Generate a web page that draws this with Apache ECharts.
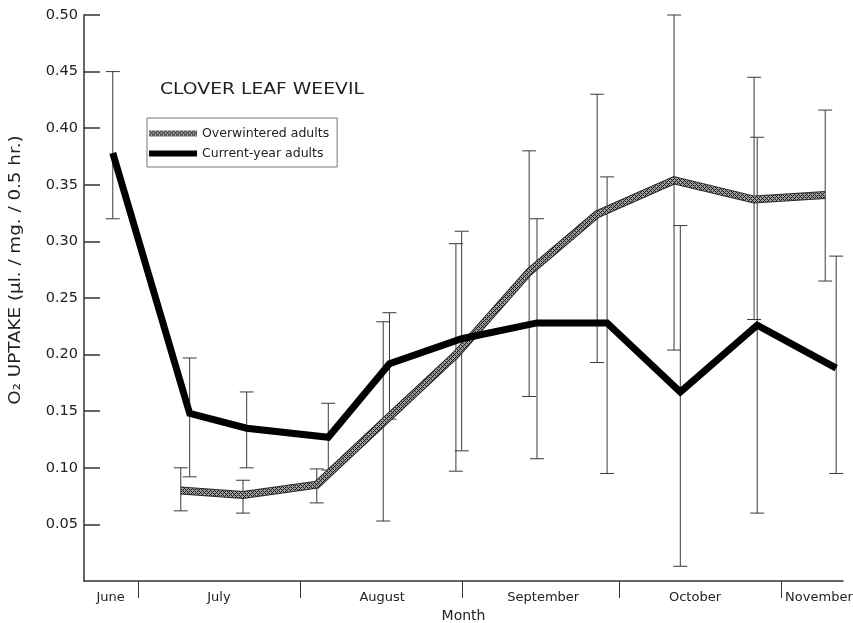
<!DOCTYPE html>
<html>
<head>
<meta charset="utf-8">
<script src="https://cdn.jsdelivr.net/npm/echarts@6/dist/echarts.min.js"></script>
<style>html,body{margin:0;padding:0;background:#fff}#c{width:853px;height:623px}</style>
</head>
<body>
<div id="c"></div>
<script>
// x values: days counted from June 1 (June 1 = 0)
const monthNames = ['June', 'July', 'August', 'September', 'October', 'November'];
const monthLabelDays = [24.8, 45.5, 76.7, 107.5, 136.5, 160.2];
const monthBoundaryDays = [30, 61, 92, 122, 153];
const yTicks = [0.05, 0.10, 0.15, 0.20, 0.25, 0.30, 0.35, 0.40, 0.45, 0.50];

// Current-year adults
const dayCurrent = [25.2, 39.9, 50.8, 66.4, 78.1, 91.9, 106.3, 119.7, 133.7, 148.4, 163.5];
const valCurrent = [0.378, 0.148, 0.135, 0.127, 0.192, 0.214, 0.228, 0.228, 0.167, 0.226, 0.188];
const lowCurrent = [0.320, 0.092, 0.100, 0.098, 0.143, 0.115, 0.108, 0.095, 0.013, 0.060, 0.095];
const highCurrent = [0.450, 0.197, 0.167, 0.157, 0.237, 0.309, 0.320, 0.357, 0.314, 0.392, 0.287];

// Overwintered adults
const dayOver = [38.2, 50.1, 64.2, 76.9, 90.8, 104.8, 117.8, 132.5, 147.8, 161.4];
const valOver = [0.080, 0.076, 0.085, 0.140, 0.200, 0.273, 0.324, 0.354, 0.337, 0.341];
const lowOver = [0.062, 0.060, 0.069, 0.053, 0.097, 0.163, 0.193, 0.204, 0.231, 0.265];
const highOver = [0.100, 0.089, 0.099, 0.229, 0.298, 0.380, 0.430, 0.500, 0.445, 0.416];

const FONT = 'DejaVu Sans';

function hatch() {
  const c = document.createElement('canvas');
  c.width = 4; c.height = 4;
  const g = c.getContext('2d');
  g.fillStyle = '#a0a0a0'; g.fillRect(0, 0, 4, 4);
  g.fillStyle = '#1a1a1a';
  for (let x = 0; x < 4; x++) for (let y = 0; y < 4; y++) {
    if ((x + y) % 4 === 0 || (x - y + 4) % 4 === 0) g.fillRect(x, y, 1, 1);
  }
  return { image: c, repeat: 'repeat' };
}
const hatchPattern = hatch();

function pairs(xs, ys) { return xs.map((x, i) => [x, ys[i]]); }
function bars(xs, lo, hi) { return xs.map((x, i) => [x, lo[i], hi[i]]); }

function errRender(params, api) {
  const x = api.value(0);
  const top = api.coord([x, api.value(2)]);
  const bot = api.coord([x, api.value(1)]);
  const w = 7;
  const st = { stroke: '#3a3a3a', lineWidth: 1 };
  return {
    type: 'group',
    children: [
      { type: 'line', shape: { x1: top[0], y1: top[1], x2: bot[0], y2: bot[1] }, style: st },
      { type: 'line', shape: { x1: top[0] - w, y1: top[1], x2: top[0] + w, y2: top[1] }, style: st },
      { type: 'line', shape: { x1: bot[0] - w, y1: bot[1], x2: bot[0] + w, y2: bot[1] }, style: st }
    ]
  };
}

const chart = echarts.init(document.getElementById('c'));
chart.setOption({
  backgroundColor: '#fff',
  animation: false,
  legend: {
    orient: 'vertical',
    left: 147, top: 118,
    padding: [9, 8, 7, 2],
    itemGap: 7,
    itemWidth: 48, itemHeight: 6,
    itemTextGap: 3,
    borderColor: '#777', borderWidth: 1,
    textStyle: { fontFamily: FONT, fontSize: 12.5, color: '#222' },
    data: [
      { name: 'Overwintered adults', icon: 'rect', itemStyle: { color: hatchPattern } },
      { name: 'Current-year adults', icon: 'rect', itemStyle: { color: '#000' } }
    ]
  },
  grid: { left: 84, top: 15, right: 10, bottom: 42, outerBoundsMode: 'none', containLabel: false },
  xAxis: {
    type: 'value',
    min: 19.7, max: 164.8,
    name: 'Month',
    nameLocation: 'middle',
    nameGap: 27,
    nameTextStyle: { fontFamily: FONT, fontSize: 14, color: '#222' },
    splitLine: { show: false },
    axisLine: { lineStyle: { color: '#333', width: 1.5 } },
    axisTick: { customValues: monthBoundaryDays, length: 17, lineStyle: { color: '#333' } },
    axisLabel: {
      customValues: monthLabelDays,
      margin: 10,
      fontFamily: FONT, fontSize: 13, color: '#222',
      formatter: v => { const i = monthLabelDays.indexOf(v); return i >= 0 ? monthNames[i] : ''; }
    }
  },
  yAxis: {
    type: 'value',
    min: 0, max: 0.5,
    splitLine: { show: false },
    axisLine: { show: true, lineStyle: { color: '#333', width: 1.5 } },
    axisTick: { customValues: yTicks, inside: true, length: 16, lineStyle: { color: '#333', width: 1.5 } },
    axisLabel: {
      customValues: yTicks,
      margin: 6,
      fontFamily: FONT, fontSize: 14.5, color: '#222',
      formatter: v => v.toFixed(2)
    }
  },
  graphic: [
    {
      type: 'text',
      x: 160, y: 90,
      scaleX: 1.25,
      style: {
        text: 'CLOVER LEAF WEEVIL',
        fontFamily: FONT, fontSize: 15, fill: '#222',
        align: 'left', verticalAlign: 'middle'
      }
    },
    {
      type: 'text',
      x: 16, y: 270,
      rotation: Math.PI / 2,
      scaleX: 1.18,
      style: {
        text: 'O₂ UPTAKE (μl. / mg. / 0.5 hr.)',
        fontFamily: FONT, fontSize: 15.5, fill: '#222',
        align: 'center', verticalAlign: 'middle'
      }
    }
  ],
  series: [
    {
      type: 'custom', name: 'errOver', renderItem: errRender,
      data: bars(dayOver, lowOver, highOver), z: 1, silent: true
    },
    {
      type: 'custom', name: 'errCurrent', renderItem: errRender,
      data: bars(dayCurrent, lowCurrent, highCurrent), z: 1, silent: true
    },
    {
      type: 'line', name: 'overEdge', data: pairs(dayOver, valOver),
      showSymbol: false, symbol: 'none', z: 2, silent: true,
      lineStyle: { color: '#2a2a2a', width: 8, join: 'miter' }
    },
    {
      type: 'line', name: 'Overwintered adults', data: pairs(dayOver, valOver),
      showSymbol: false, symbol: 'none', z: 3,
      itemStyle: { color: hatchPattern },
      lineStyle: { color: hatchPattern, width: 6, join: 'miter' }
    },
    {
      type: 'line', name: 'Current-year adults', data: pairs(dayCurrent, valCurrent),
      showSymbol: false, symbol: 'none', z: 4,
      itemStyle: { color: '#000' },
      lineStyle: { color: '#000', width: 7, join: 'miter' }
    }
  ]
});
</script>
</body>
</html>
